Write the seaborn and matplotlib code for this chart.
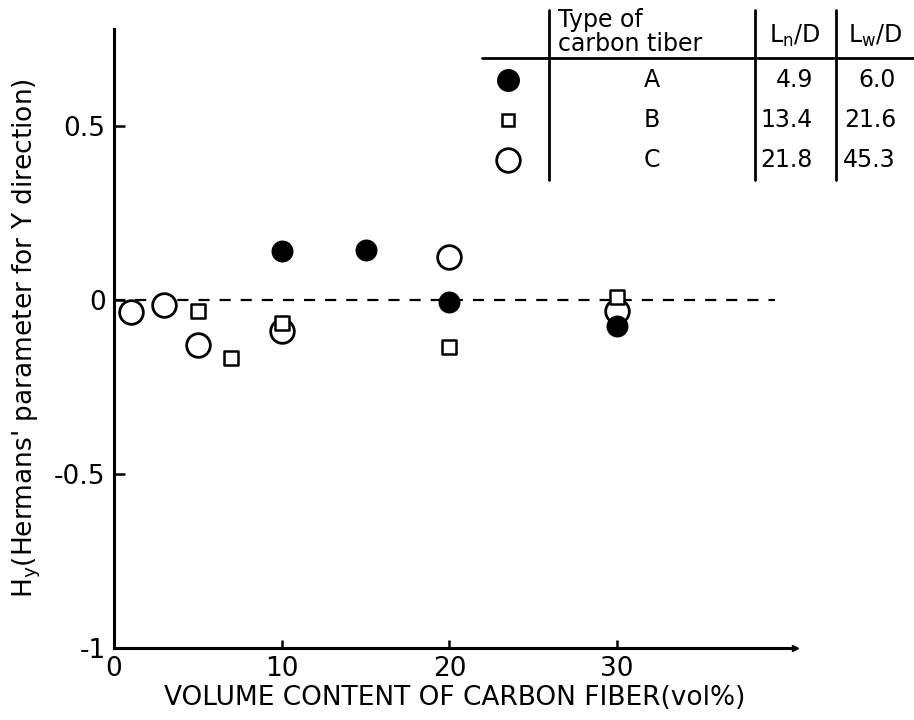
import matplotlib
matplotlib.use("Agg")
import matplotlib.pyplot as plt
import seaborn as sns
import pandas as pd
from matplotlib.lines import Line2D

# ---- data ----
a_x = [10, 15, 20, 30]
a_y = [0.14, 0.145, -0.005, -0.075]
b_x = [5, 7, 10, 20, 30]
b_y = [-0.03, -0.165, -0.065, -0.135, 0.01]
c_x = [1, 3, 5, 10, 20, 30]
c_y = [-0.035, -0.015, -0.13, -0.09, 0.125, -0.03]

x_ticks = [0, 10, 20, 30]
y_ticks = [-1, -0.5, 0, 0.5]
y_ticklabels = ["-1", "-0.5", "0", "0.5"]

types = ["A", "B", "C"]
ln_d = ["4.9", "13.4", "21.8"]
lw_d = ["6.0", "21.6", "45.3"]

sns.set_theme(style="ticks")
plt.rcParams["font.family"] = ["DejaVu Sans"]
plt.rcParams["text.color"] = "black"
plt.rcParams["axes.labelcolor"] = "black"
plt.rcParams["xtick.color"] = "black"
plt.rcParams["ytick.color"] = "black"
plt.rcParams["axes.edgecolor"] = "black"

fig = plt.figure(figsize=(9.14, 7.2), dpi=100)
ax = fig.add_axes([114 / 914, 0.10, 681 / 914, 0.86])

df_a = pd.DataFrame({"x": a_x, "y": a_y})
df_b = pd.DataFrame({"x": b_x, "y": b_y})
df_c = pd.DataFrame({"x": c_x, "y": c_y})

XMAX = 40.6
ax.axhline(0, xmin=0, xmax=39.4 / XMAX, color="black", lw=1.6, dashes=(5, 4.5), zorder=1)

sns.scatterplot(data=df_c, x="x", y="y", ax=ax, marker="o", s=290,
                facecolor="white", edgecolor="black", linewidth=2.0, zorder=3)
sns.scatterplot(data=df_b, x="x", y="y", ax=ax, marker="s", s=90,
                facecolor="white", edgecolor="black", linewidth=1.8, zorder=4)
sns.scatterplot(data=df_a, x="x", y="y", ax=ax, marker="o", s=250,
                color="black", edgecolor="black", linewidth=0, zorder=5)

ax.set_xlim(0, XMAX)
ax.set_ylim(-1, 0.78)
ax.set_xticks(x_ticks)
ax.set_xticklabels([str(v) for v in x_ticks])
ax.set_yticks(y_ticks)
ax.set_yticklabels(y_ticklabels)
ax.tick_params(direction="in", width=1.8, labelsize=19, colors="black")
ax.tick_params(axis="y", length=8, pad=6)
ax.tick_params(axis="x", length=6, pad=6)
for s in ["top", "right"]:
    ax.spines[s].set_visible(False)
for s in ["left", "bottom"]:
    ax.spines[s].set_linewidth(2.2)
    ax.spines[s].set_color("black")
ax.plot(1, 0, marker=">", color="black", markersize=5, transform=ax.transAxes, clip_on=False)

ax.set_xlabel("VOLUME CONTENT OF CARBON FIBER(vol%)", fontsize=19, labelpad=2, color="black")
ax.set_ylabel(r"H$_\mathrm{y}$(Hermans' parameter for Y direction)", fontsize=19,
              labelpad=8, color="black")

# ---- legend table ----
W, H = 914, 720
def fx(px):
    return px / W
def fy(py):
    return 1 - py / H

lk = dict(color="black", lw=2.0, transform=fig.transFigure)
fig.add_artist(Line2D([fx(482), fx(914)], [fy(58), fy(58)], **lk))
for vx in [549, 755, 836]:
    fig.add_artist(Line2D([fx(vx), fx(vx)], [fy(10), fy(180)], **lk))

tk = dict(fontsize=17, transform=fig.transFigure, color="black")
fig.text(fx(558), fy(32), "Type of\ncarbon tiber", ha="left", va="center",
         linespacing=0.95, **tk)
fig.text(fx(795), fy(36), r"L$_\mathrm{n}$/D", ha="center", va="center", **tk)
fig.text(fx(875), fy(36), r"L$_\mathrm{w}$/D", ha="center", va="center", **tk)

rows_y = [80, 120, 160]
mk_styles = [
    dict(marker="o", markersize=15.5, markerfacecolor="black", markeredgecolor="black"),
    dict(marker="s", markersize=9, markerfacecolor="white", markeredgecolor="black", markeredgewidth=1.8),
    dict(marker="o", markersize=17, markerfacecolor="white", markeredgecolor="black", markeredgewidth=2.0),
]
for ry, t, ln, lw, st in zip(rows_y, types, ln_d, lw_d, mk_styles):
    fig.add_artist(Line2D([fx(508)], [fy(ry)], linestyle="none", transform=fig.transFigure, **st))
    fig.text(fx(652), fy(ry), t, ha="center", va="center", **tk)
    fig.text(fx(813), fy(ry), ln, ha="right", va="center", **tk)
    fig.text(fx(896), fy(ry), lw, ha="right", va="center", **tk)

fig.savefig("out.png", dpi=100)
